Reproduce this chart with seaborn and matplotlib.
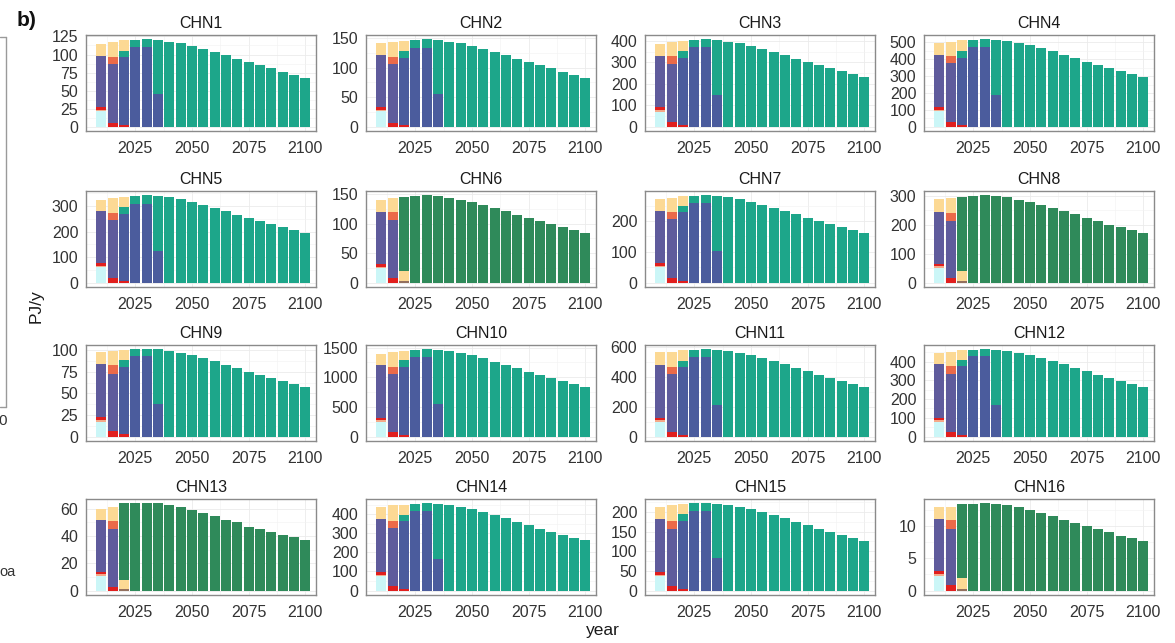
import numpy as np
import pandas as pd
import matplotlib
matplotlib.use("Agg")
import matplotlib.pyplot as plt
from matplotlib.lines import Line2D
from matplotlib.ticker import MultipleLocator, FixedLocator
import seaborn as sns

# ---------------- data ----------------
REGIONS = ["CHN1", "CHN2", "CHN3", "CHN4", "CHN5", "CHN6", "CHN7", "CHN8",
           "CHN9", "CHN10", "CHN11", "CHN12", "CHN13", "CHN14", "CHN15", "CHN16"]
GREEN_REGIONS = ["CHN6", "CHN8", "CHN13", "CHN16"]
LATE_YEARS = [2025, 2030, 2035, 2040, 2045, 2050, 2055, 2060,
              2065, 2070, 2075, 2080, 2085, 2090, 2095, 2100]

# 2010 bar segments (one value per region)
Y2010_CYAN = [21, 26, 70, 90, 60, 25, 50, 52, 17, 250, 100, 80, 11, 78, 38, 2.3]
Y2010_PEACH = [2, 2, 8, 8, 5, 2, 5, 5, 2, 25, 10, 8, 1, 6, 3, 0.2]
Y2010_RED = [4, 5, 14, 17, 12, 5, 8, 9, 4, 45, 18, 12, 2, 14, 7, 0.5]
Y2010_PURPLE = [71, 88, 240, 310, 203, 88, 169, 179, 61, 880, 354, 285, 38, 277, 135, 8.1]
Y2010_YELLOW = [17, 21, 53, 70, 45, 20, 38, 43, 14, 200, 83, 60, 8, 60, 29, 1.8]

# 2015 bar segments
Y2015_RED = [5, 6, 20, 28, 18, 8, 15, 17, 6, 80, 30, 25, 3, 25, 12, 0.8]
Y2015_PURPLE = [82, 100, 273, 347, 227, 98, 190, 198, 67, 970, 390, 310, 42, 300, 146, 8.8]
Y2015_ORANGE = [10, 12, 35, 45, 27, 13, 23, 27, 10, 130, 48, 40, 6, 40, 20, 1.4]
Y2015_YELLOW = [21, 26, 67, 85, 58, 24, 47, 50, 16, 240, 102, 75, 10, 80, 39, 2.0]

# 2020 bar segments (base is red in teal regions, brown in green regions)
Y2020_BASE = [2, 2, 8, 8, 7, 3, 6, 6, 3, 30, 12, 10, 1, 10, 5, 0.3]
Y2020_BLUE = [94, 115, 314, 402, 263, 0, 222, 0, 78, 1140, 458, 365, 0, 355, 173, 0]
Y2020_MAIN = [9, 11, 30, 40, 28, 126, 20, 258, 8, 120, 40, 35, 56, 30, 18, 11.5]
Y2020_YELLOW = [15, 18, 48, 65, 37, 17, 32, 34, 11, 150, 70, 50, 7, 55, 24, 1.6]

# remaining blue in 2025-2035
BLUE_2025 = [110, 134, 370, 470, 308, 0, 257, 0, 93, 1340, 535, 428, 0, 415, 203, 0]
BLUE_2030 = [110, 134, 370, 470, 308, 0, 257, 0, 93, 1340, 535, 428, 0, 415, 203, 0]
BLUE_2035 = [45, 55, 150, 190, 125, 0, 103, 0, 38, 545, 215, 170, 0, 165, 82, 0]

# bar totals 2025-2100
TOTAL_CHN1 = [120, 121, 120, 118, 116, 112, 108, 104, 99, 94, 89, 85, 81, 76, 72, 68]
TOTAL_CHN2 = [147, 148, 147, 144, 141, 137, 132, 127, 121, 115, 109, 104, 99, 93, 88, 83]
TOTAL_CHN3 = [405, 408, 405, 398, 390, 378, 365, 350, 335, 318, 302, 287, 272, 258, 245, 232]
TOTAL_CHN4 = [515, 518, 515, 508, 497, 482, 465, 446, 428, 406, 386, 366, 348, 330, 312, 295]
TOTAL_CHN5 = [340, 342, 340, 334, 326, 316, 304, 292, 280, 267, 254, 241, 229, 217, 206, 195]
TOTAL_CHN6 = [147, 148, 147, 144, 140, 136, 131, 126, 121, 115, 110, 104, 99, 94, 89, 84]
TOTAL_CHN7 = [282, 283, 282, 277, 270, 262, 253, 243, 233, 222, 211, 200, 190, 180, 170, 160]
TOTAL_CHN8 = [300, 302, 300, 295, 287, 279, 269, 259, 248, 236, 224, 212, 201, 191, 181, 171]
TOTAL_CHN9 = [101, 101, 101, 99, 97, 94, 91, 87, 83, 79, 75, 71, 68, 64, 61, 58]
TOTAL_CHN10 = [1465, 1470, 1460, 1440, 1410, 1370, 1320, 1265, 1210, 1150, 1090, 1030, 980, 930, 885, 840]
TOTAL_CHN11 = [583, 585, 583, 575, 562, 545, 527, 506, 484, 461, 438, 415, 394, 373, 354, 335]
TOTAL_CHN12 = [463, 465, 463, 457, 447, 433, 418, 402, 385, 367, 348, 330, 313, 297, 281, 265]
TOTAL_CHN13 = [64, 64, 64, 63, 61, 59, 57, 55, 52, 50, 47, 45, 43, 41, 39, 37]
TOTAL_CHN14 = [455, 456, 454, 447, 437, 424, 409, 393, 377, 359, 341, 323, 307, 291, 276, 262]
TOTAL_CHN15 = [222, 222, 221, 218, 213, 207, 199, 192, 184, 175, 166, 157, 150, 142, 134, 127]
TOTAL_CHN16 = [13.4, 13.5, 13.4, 13.2, 12.9, 12.5, 12.0, 11.5, 11.0, 10.5, 10.0, 9.5, 9.0, 8.5, 8.1, 7.7]

TOTALS = [TOTAL_CHN1, TOTAL_CHN2, TOTAL_CHN3, TOTAL_CHN4, TOTAL_CHN5, TOTAL_CHN6,
          TOTAL_CHN7, TOTAL_CHN8, TOTAL_CHN9, TOTAL_CHN10, TOTAL_CHN11, TOTAL_CHN12,
          TOTAL_CHN13, TOTAL_CHN14, TOTAL_CHN15, TOTAL_CHN16]

Y_STEP = [25, 50, 100, 100, 100, 50, 100, 100, 25, 500, 200, 100, 20, 100, 50, 5]

# ---------------- style ----------------
# hue order top -> bottom (seaborn stacks the last level at the bottom)
CAT_ORDER = ["green", "yellow", "teal", "orange", "blue", "purple", "brown", "red", "peach", "cyan"]
PALETTE = {
    "cyan": "#CBF6F7", "peach": "#F4A98A", "red": "#E11F1E", "brown": "#93705E",
    "purple": "#5F5B9C", "blue": "#4B5C9D", "orange": "#EB6A49",
    "teal": "#1DA68A", "yellow": "#FCD994", "green": "#2F8A5A",
}


def region_frame(i):
    reg = REGIONS[i]
    main = "green" if reg in GREEN_REGIONS else "teal"
    base = "brown" if reg in GREEN_REGIONS else "red"
    rows = [
        (2010, "cyan", Y2010_CYAN[i]), (2010, "peach", Y2010_PEACH[i]),
        (2010, "red", Y2010_RED[i]), (2010, "purple", Y2010_PURPLE[i]),
        (2010, "yellow", Y2010_YELLOW[i]),
        (2015, "red", Y2015_RED[i]), (2015, "purple", Y2015_PURPLE[i]),
        (2015, "orange", Y2015_ORANGE[i]), (2015, "yellow", Y2015_YELLOW[i]),
        (2020, base, Y2020_BASE[i]), (2020, "blue", Y2020_BLUE[i]),
        (2020, main, Y2020_MAIN[i]), (2020, "yellow", Y2020_YELLOW[i]),
    ]
    blues = {2025: BLUE_2025[i], 2030: BLUE_2030[i], 2035: BLUE_2035[i]}
    for yr, tot in zip(LATE_YEARS, TOTALS[i]):
        b = blues.get(yr, 0)
        if b:
            rows.append((yr, "blue", b))
        rows.append((yr, main, tot - b))
    # keep every category present
    for c in CAT_ORDER:
        rows.append((2010, c, 0.0))
    df = pd.DataFrame(rows, columns=["year", "cat", "value"])
    df["year"] = df["year"].astype(float)
    df["value"] = df["value"].astype(float)
    return df


sns.set_style("white")
plt.rcParams["font.family"] = ["Liberation Sans", "DejaVu Sans"]

W, H = 1175, 643
fig = plt.figure(figsize=(W / 100, H / 100), dpi=100)

COL_LEFT = [86, 366, 645, 924]
ROW_TOP = [35, 191, 345, 499]
PW, PH = 230, 96

for i, reg in enumerate(REGIONS):
    r, c = divmod(i, 4)
    ax = fig.add_axes([COL_LEFT[c] / W, 1 - (ROW_TOP[r] + PH) / H, PW / W, PH / H])
    ax.set_axisbelow(True)
    df = region_frame(i)
    sns.histplot(data=df, x="year", weights="value", hue="cat", hue_order=CAT_ORDER,
                 palette=PALETTE, multiple="stack", binwidth=5, binrange=(2007.5, 2102.5),
                 shrink=0.88, alpha=1, linewidth=0, legend=False, ax=ax)
    m = max(TOTALS[i])
    ax.set_ylim(-0.05 * m, 1.05 * m)
    ax.set_xlim(2003.3, 2104.7)
    ax.set_xticks([2025, 2050, 2075, 2100])
    ax.xaxis.set_minor_locator(FixedLocator([2012.5, 2037.5, 2062.5, 2087.5]))
    ax.yaxis.set_major_locator(MultipleLocator(Y_STEP[i]))
    ax.yaxis.set_minor_locator(MultipleLocator(Y_STEP[i] / 2))
    ax.grid(True, which="major", color="#EBEBEB", lw=0.6)
    ax.grid(True, which="minor", color="#F2F2F2", lw=0.4)
    ax.tick_params(axis="both", which="major", direction="out", length=3, width=0.8,
                   color="#555555", labelsize=11.5, labelcolor="#333333")
    ax.tick_params(axis="x", which="major", pad=4)
    ax.tick_params(axis="y", which="major", pad=2.5)
    ax.tick_params(axis="both", which="minor", length=0)
    ax.set_xlabel("")
    ax.set_ylabel("")
    for s in ax.spines.values():
        s.set_color("#8A8A8A")
        s.set_linewidth(1.0)
    ax.set_title(reg, fontsize=11.5, color="#1A1A1A", pad=5)

fig.text(603 / W, 1 - 630 / H, "year", ha="center", va="center", fontsize=12.5, color="#1A1A1A")
fig.text(36 / W, 1 - 306 / H, "PJ/y", ha="center", va="center", rotation=90, fontsize=12.5,
         color="#1A1A1A")
fig.text(17 / W, 1 - 21 / H, "b)", ha="left", va="center", fontsize=15, fontweight="bold",
         color="#111111")

# fragments of the neighbouring (cropped) panel on the far left
frag = "#9A9A9A"
fig.add_artist(Line2D([0, 6 / W], [1 - 37 / H, 1 - 37 / H], color=frag, lw=1.0))
fig.add_artist(Line2D([6 / W, 6 / W], [1 - 37 / H, 1 - 407 / H], color=frag, lw=1.0))
fig.add_artist(Line2D([0, 6 / W], [1 - 407 / H, 1 - 407 / H], color=frag, lw=1.0))
fig.text(-2 / W, 1 - 421 / H, "0", ha="left", va="center", fontsize=11, color="#333333")
fig.text(-1 / W, 1 - 572 / H, "oa", ha="left", va="center", fontsize=10.5, color="#333333")

fig.savefig("out.png", dpi=100, facecolor="white")
